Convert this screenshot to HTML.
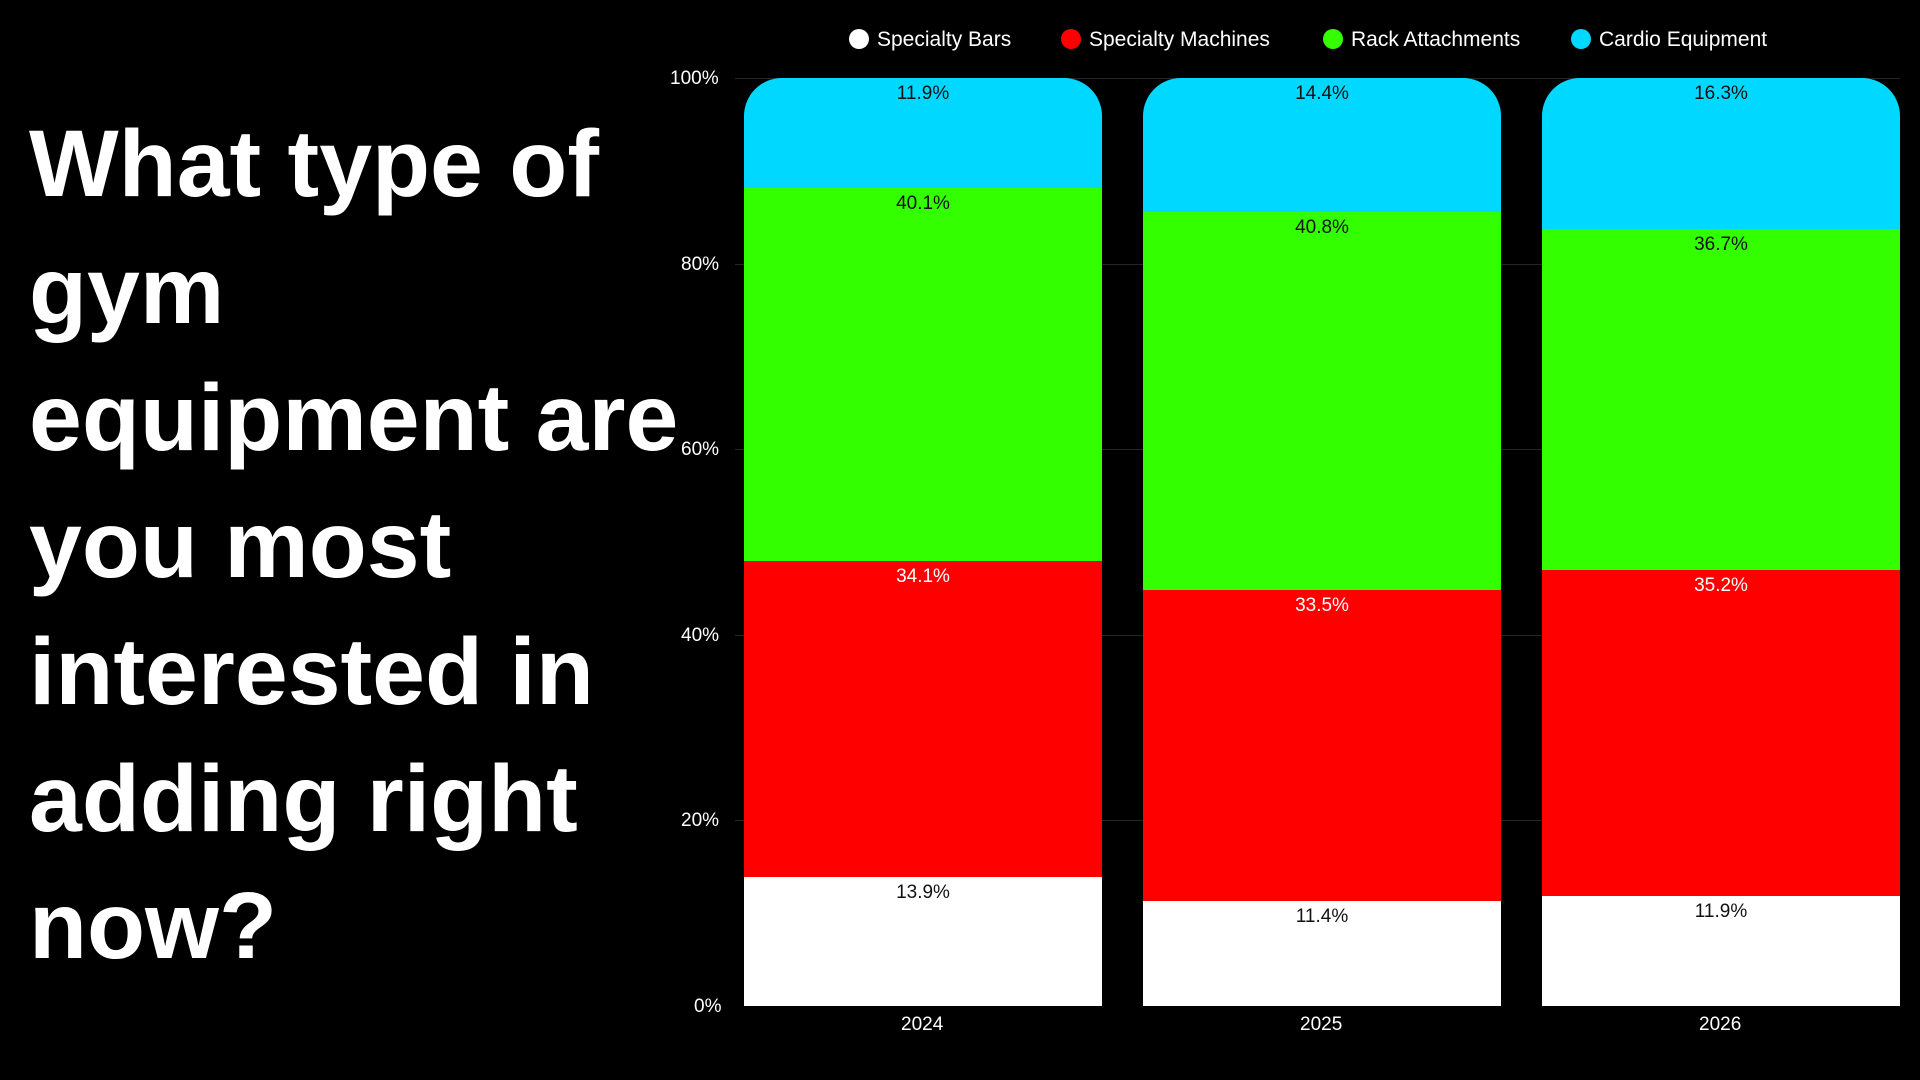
<!DOCTYPE html>
<html><head><meta charset="utf-8"><style>
body{margin:0;width:1920px;height:1080px;background:#000;position:relative;overflow:hidden;font-family:"Liberation Sans",sans-serif}
.t{position:absolute;left:29px;top:101px;color:#fff;font-weight:bold;font-size:95px;line-height:127px;white-space:nowrap}
.a{position:absolute;color:#fff;font-size:19px}
.g{position:absolute;left:735px;width:1165px;height:1px;background:#262626}
.bar{position:absolute;width:358px;top:78px;height:928px;border-radius:38px 38px 0 0;overflow:hidden}
.s{position:absolute;left:0;width:100%}
.l{position:absolute;width:100%;text-align:center;font-size:19px;color:#111}
.lg{position:absolute;top:28px;color:#fff;font-size:21px}
.d{display:inline-block;width:20px;height:20px;border-radius:50%;vertical-align:-3px;margin-right:8px}
</style></head><body>
<div class="t">What type of<br>gym<br>equipment are<br>you most<br>interested in<br>adding right<br>now?</div>
<div class="lg" style="left:849px"><span class="d" style="background:#fff"></span>Specialty Bars</div>
<div class="lg" style="left:1061px"><span class="d" style="background:#ff0000"></span>Specialty Machines</div>
<div class="lg" style="left:1323px"><span class="d" style="background:#33ff00"></span>Rack Attachments</div>
<div class="lg" style="left:1571px"><span class="d" style="background:#00d8ff"></span>Cardio Equipment</div>
<div class="g" style="top:78px"></div><div class="g" style="top:264px"></div><div class="g" style="top:449px"></div><div class="g" style="top:635px"></div><div class="g" style="top:820px"></div>
<div class="a" style="left:670px;top:68px">100%</div>
<div class="a" style="left:681px;top:254px">80%</div>
<div class="a" style="left:681px;top:439px">60%</div>
<div class="a" style="left:681px;top:625px">40%</div>
<div class="a" style="left:681px;top:810px">20%</div>
<div class="a" style="left:694px;top:996px">0%</div>

<div class="bar" style="left:744px">
<div class="s" style="top:0;height:110px;background:#00d8ff"><div class="l" style="top:5px">11.9%</div></div>
<div class="s" style="top:110px;height:373px;background:#33ff00"><div class="l" style="top:5px">40.1%</div></div>
<div class="s" style="top:483px;height:316px;background:#ff0000"><div class="l" style="top:5px;color:#fff">34.1%</div></div>
<div class="s" style="top:799px;height:129px;background:#fff"><div class="l" style="top:5px">13.9%</div></div>
</div>
<div class="bar" style="left:1143px">
<div class="s" style="top:0;height:134px;background:#00d8ff"><div class="l" style="top:5px">14.4%</div></div>
<div class="s" style="top:134px;height:378px;background:#33ff00"><div class="l" style="top:5px">40.8%</div></div>
<div class="s" style="top:512px;height:311px;background:#ff0000"><div class="l" style="top:5px;color:#fff">33.5%</div></div>
<div class="s" style="top:823px;height:105px;background:#fff"><div class="l" style="top:5px">11.4%</div></div>
</div>
<div class="bar" style="left:1542px">
<div class="s" style="top:0;height:151px;background:#00d8ff"><div class="l" style="top:5px">16.3%</div></div>
<div class="s" style="top:151px;height:341px;background:#33ff00"><div class="l" style="top:5px">36.7%</div></div>
<div class="s" style="top:492px;height:326px;background:#ff0000"><div class="l" style="top:5px;color:#fff">35.2%</div></div>
<div class="s" style="top:818px;height:110px;background:#fff"><div class="l" style="top:5px">11.9%</div></div>
</div>
<div class="a" style="left:901px;top:1014px">2024</div>
<div class="a" style="left:1300px;top:1014px">2025</div>
<div class="a" style="left:1699px;top:1014px">2026</div>
</body></html>
